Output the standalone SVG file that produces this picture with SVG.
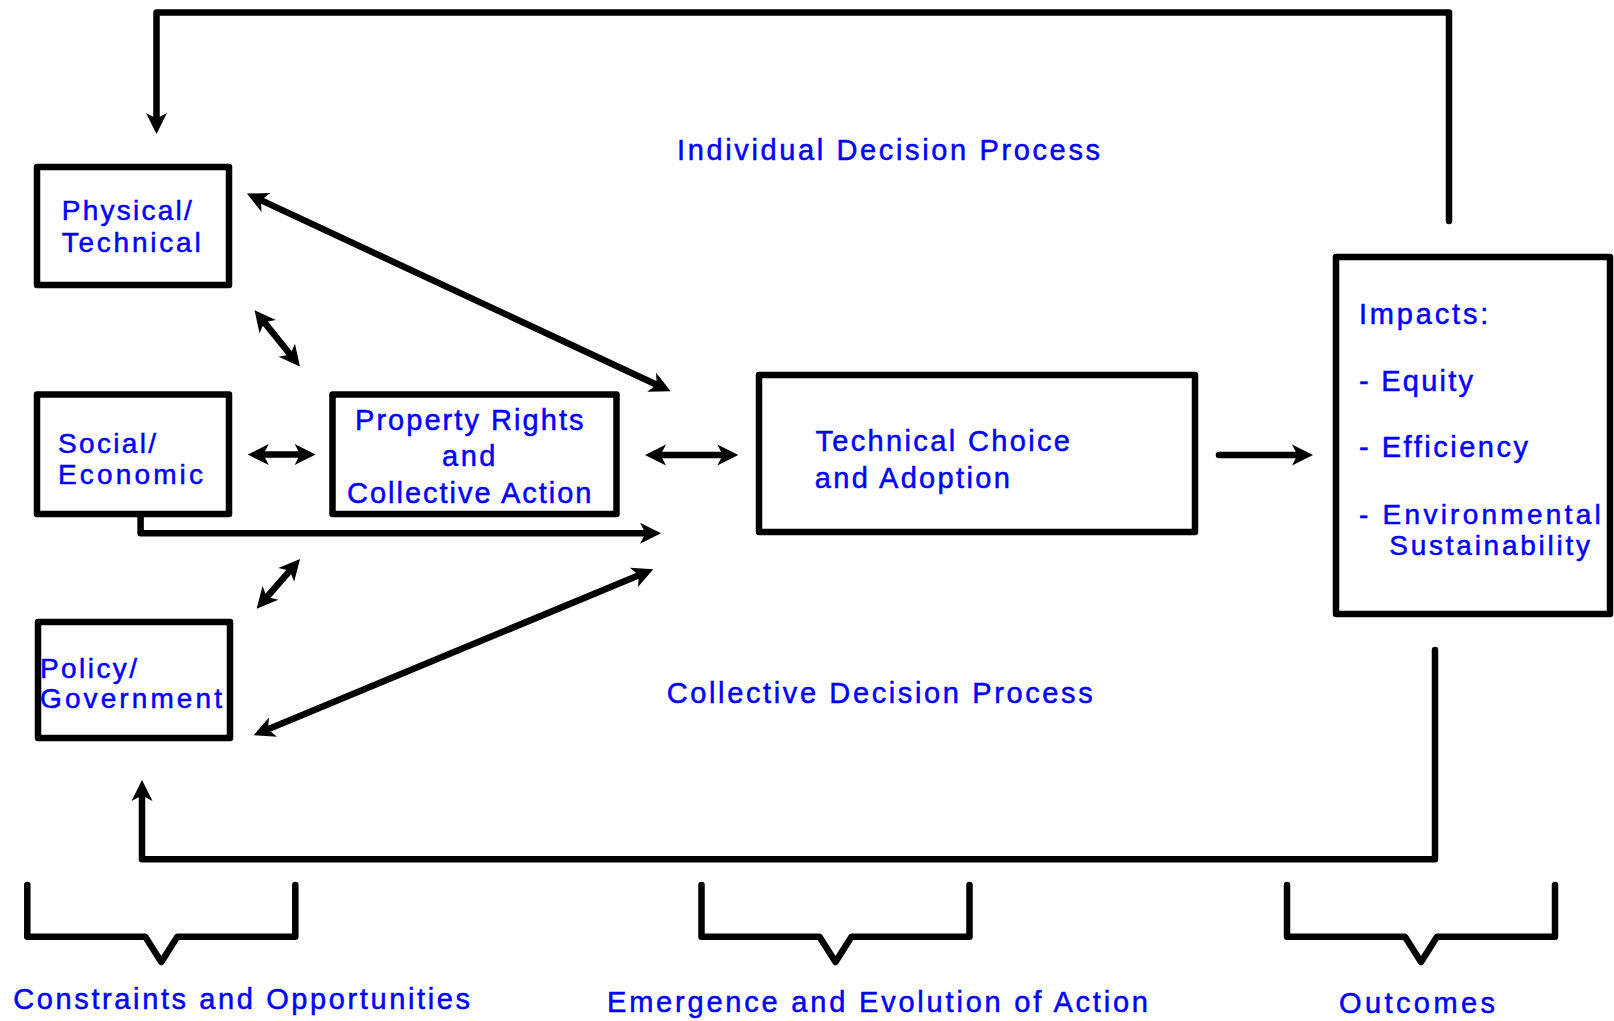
<svg xmlns="http://www.w3.org/2000/svg" width="1614" height="1021" viewBox="0 0 1614 1021">
<style>
.box{fill:#fff;stroke:#000;stroke-width:6.5;stroke-linejoin:round}
.conn{fill:none;stroke:#000;stroke-width:6.5;stroke-linecap:round;stroke-linejoin:round}
.br{fill:none;stroke:#000;stroke-width:6.5;stroke-linecap:round;stroke-linejoin:round}
text{font-family:"Liberation Sans",Arial,sans-serif;font-size:29px;fill:#0000FF;stroke:#0000FF;stroke-width:0.5}
.lbl{font-size:28px}
</style>
<defs>
<marker id="ah" viewBox="-22 -11 23 22" refX="-13" refY="0" markerWidth="23" markerHeight="22" markerUnits="userSpaceOnUse" orient="auto-start-reverse">
<path d="M0,0 L-21,-10.5 L-15.5,0 L-21,10.5 Z" fill="#000"/>
</marker>
</defs>
<rect width="1614" height="1021" fill="#fff"/>

<g id="connectors">
<path class="conn" d="M258.7,199.1 L658.9,385.7" marker-start="url(#ah)" marker-end="url(#ah)"/>
<path class="conn" d="M262.7,320.4 L291.8,356.5" marker-start="url(#ah)" marker-end="url(#ah)"/>
<path class="conn" d="M260.8,454.6 L302.6,454.6" marker-start="url(#ah)" marker-end="url(#ah)"/>
<path class="conn" d="M658,455 L725.3,455" marker-start="url(#ah)" marker-end="url(#ah)"/>
<path class="conn" d="M140.6,514 V533.3 H648" marker-end="url(#ah)"/>
<path class="conn" d="M291.5,568.8 L265.2,599" marker-start="url(#ah)" marker-end="url(#ah)"/>
<path class="conn" d="M265.6,730.2 L641.3,574.3" marker-start="url(#ah)" marker-end="url(#ah)"/>
<path class="conn" d="M1219,455 H1300" marker-end="url(#ah)"/>
<path class="conn" d="M1449,221 V12.5 H156.5 V121" marker-end="url(#ah)"/>
<path class="conn" d="M1435,650 V859.3 H142 V793" marker-end="url(#ah)"/>
</g>

<g id="physical">
<rect class="box" x="37" y="167" width="192" height="118"/>
<text class="lbl" x="61.7" y="220" textLength="130" lengthAdjust="spacing">Physical/</text>
<text class="lbl" x="61.7" y="252" textLength="139" lengthAdjust="spacing">Technical</text>
</g>
<g id="social">
<rect class="box" x="37" y="394.5" width="192" height="119.5"/>
<text class="lbl" x="58" y="453" textLength="98" lengthAdjust="spacing">Social/</text>
<text class="lbl" x="58" y="484" textLength="145" lengthAdjust="spacing">Economic</text>
</g>
<g id="policy">
<rect class="box" x="38" y="622" width="192" height="116"/>
<text class="lbl" x="40" y="678" textLength="97" lengthAdjust="spacing">Policy/</text>
<text class="lbl" x="40" y="708" textLength="182" lengthAdjust="spacing">Government</text>
</g>
<g id="property">
<rect class="box" x="332.5" y="394.5" width="284" height="119.5"/>
<text x="355" y="430" textLength="228.5" lengthAdjust="spacing">Property Rights</text>
<text x="442" y="466.4" textLength="53.5" lengthAdjust="spacing">and</text>
<text x="347" y="502.8" textLength="244.5" lengthAdjust="spacing">Collective Action</text>
</g>
<g id="technical">
<rect class="box" x="759" y="375" width="436" height="157"/>
<text x="815.4" y="451" textLength="254.6" lengthAdjust="spacing">Technical Choice</text>
<text x="814.8" y="487.5" textLength="195" lengthAdjust="spacing">and Adoption</text>
</g>
<g id="impacts">
<rect class="box" x="1336" y="257" width="274" height="357"/>
<text x="1359" y="324" textLength="129.3" lengthAdjust="spacing">Impacts:</text>
<text x="1359" y="390.7" textLength="114" lengthAdjust="spacing">- Equity</text>
<text x="1359" y="457.3" textLength="169" lengthAdjust="spacing">- Efficiency</text>
<text class="lbl" x="1359" y="524" textLength="241.7" lengthAdjust="spacing">- Environmental</text>
<text class="lbl" x="1389.3" y="555" textLength="200.7" lengthAdjust="spacing">Sustainability</text>
</g>

<g id="labels">
<text x="677" y="160" textLength="423" lengthAdjust="spacing">Individual Decision Process</text>
<text x="666.7" y="703.3" textLength="426" lengthAdjust="spacing">Collective Decision Process</text>
</g>

<g id="brackets">
<path class="br" d="M27.3,885 V936.7 H145.3 L161.3,962 L177.3,936.7 H295.3 V885"/>
<path class="br" d="M701.5,885 V936.7 H819.5 L835.5,962 L851.5,936.7 H969.5 V885"/>
<path class="br" d="M1287,885 V936.7 H1405 L1421,962 L1437,936.7 H1555 V885"/>
<text x="13.3" y="1009.3" textLength="456.7" lengthAdjust="spacing">Constraints and Opportunities</text>
<text x="607" y="1011.5" textLength="541" lengthAdjust="spacing">Emergence and Evolution of Action</text>
<text x="1339" y="1013" textLength="156" lengthAdjust="spacing">Outcomes</text>
</g>
</svg>
